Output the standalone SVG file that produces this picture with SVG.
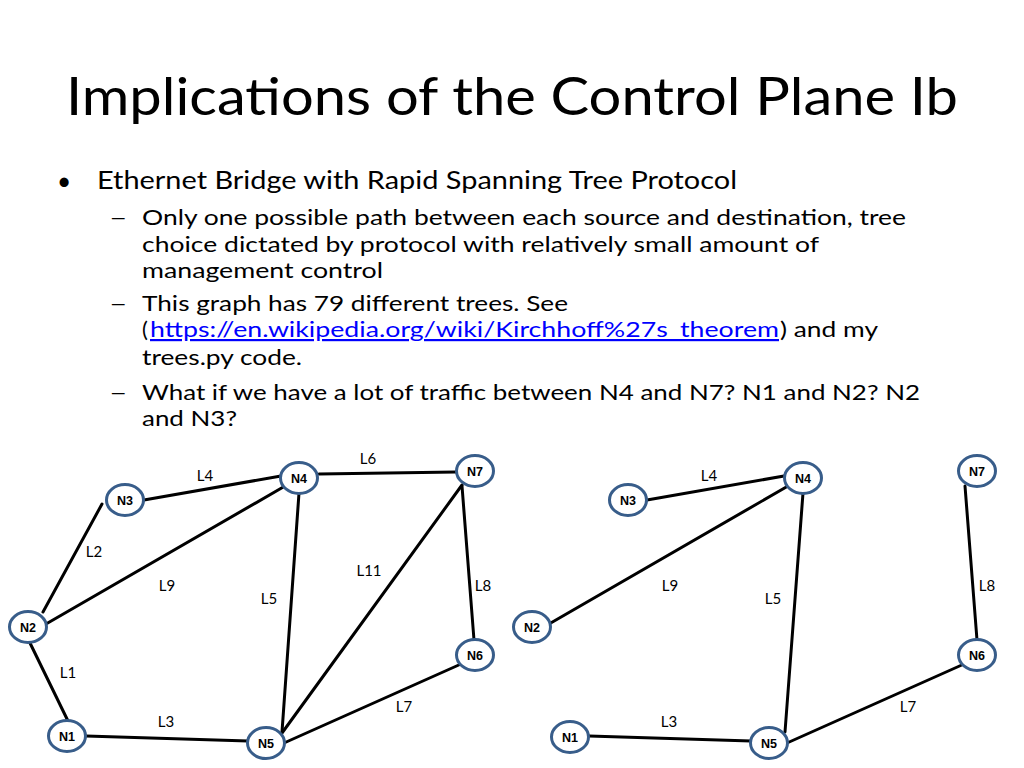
<svg xmlns="http://www.w3.org/2000/svg" width="1024" height="768" viewBox="0 0 1024 768">
<style>
.t{font-family:Lato,"Open Sans","Liberation Sans",sans-serif;fill:#000}
.title{font-size:53px}
.b1{font-size:24.5px}
.b2{font-size:22px}
.link{fill:#0000ff;text-decoration:underline}
.lbl{font-family:Lato,"Open Sans","Liberation Sans",sans-serif;font-size:15px;fill:#000;text-anchor:middle}
.nd ellipse{fill:#fff;stroke:#385d8a;stroke-width:3}
.nd text{font-family:"Liberation Sans",Arial,sans-serif;font-weight:bold;font-size:13px;fill:#000;text-anchor:middle}
.edges line{stroke:#000;stroke-width:3;stroke-linecap:round}
</style>
<rect width="1024" height="768" fill="#fff"/>
<text class="t title" x="66" y="115" textLength="892" lengthAdjust="spacingAndGlyphs">Implications of the Control Plane Ib</text>
<text class="t b1" x="57" y="190">•</text>
<text class="t b1" x="97" y="189" textLength="640" lengthAdjust="spacingAndGlyphs">Ethernet Bridge with Rapid Spanning Tree Protocol</text>
<text class="t b2" transform="translate(109,225) scale(1.45,1)">–</text>
<text class="t b2" x="142" y="225" textLength="764" lengthAdjust="spacingAndGlyphs">Only one possible path between each source and destination, tree</text>
<text class="t b2" x="142" y="252" textLength="677" lengthAdjust="spacingAndGlyphs">choice dictated by protocol with relatively small amount of</text>
<text class="t b2" x="142" y="278" textLength="241" lengthAdjust="spacingAndGlyphs">management control</text>
<text class="t b2" transform="translate(109,311) scale(1.45,1)">–</text>
<text class="t b2" x="142" y="311" textLength="426" lengthAdjust="spacingAndGlyphs">This graph has 79 different trees. See</text>
<text class="t b2" x="142" y="337">(</text>
<text class="t b2 link" x="150" y="337" textLength="629" lengthAdjust="spacingAndGlyphs">https://en.wikipedia.org/wiki/Kirchhoff%27s_theorem</text>
<text class="t b2" x="780" y="337" textLength="98" lengthAdjust="spacingAndGlyphs">) and my</text>
<text class="t b2" x="142" y="365" textLength="160" lengthAdjust="spacingAndGlyphs">trees.py code.</text>
<text class="t b2" transform="translate(109,400) scale(1.45,1)">–</text>
<text class="t b2" x="142" y="400" textLength="778" lengthAdjust="spacingAndGlyphs">What if we have a lot of traffic between N4 and N7? N1 and N2? N2</text>
<text class="t b2" x="142" y="426" textLength="95" lengthAdjust="spacingAndGlyphs">and N3?</text>

<g id="graph-full">
  <g id="connectors-full" class="edges">
    <line x1="144" y1="500" x2="281" y2="476"/>
    <line x1="319" y1="474" x2="456" y2="472"/>
    <line x1="43" y1="612" x2="102" y2="504"/>
    <line x1="46" y1="624" x2="285" y2="486"/>
    <line x1="299" y1="493" x2="282" y2="732"/>
    <line x1="462" y1="485" x2="282" y2="733"/>
    <line x1="462" y1="486" x2="474" y2="640"/>
    <line x1="30" y1="643" x2="68" y2="721"/>
    <line x1="86" y1="736" x2="248" y2="741"/>
    <line x1="284" y1="743" x2="461" y2="664"/>
  </g>
  <g id="labels-full">
    <text class="lbl" x="205" y="481">L4</text>
    <text class="lbl" x="368" y="464">L6</text>
    <text class="lbl" x="94" y="557">L2</text>
    <text class="lbl" x="167" y="591">L9</text>
    <text class="lbl" x="269" y="604">L5</text>
    <text class="lbl" x="369" y="576">L11</text>
    <text class="lbl" x="483" y="591">L8</text>
    <text class="lbl" x="68" y="678">L1</text>
    <text class="lbl" x="166" y="727">L3</text>
    <text class="lbl" x="404" y="712">L7</text>
  </g>
  <g id="n1-full" class="nd"><ellipse cx="67" cy="736" rx="18.5" ry="15.5"/><text x="67" y="741" textLength="16" lengthAdjust="spacingAndGlyphs">N1</text></g>
  <g id="n2-full" class="nd"><ellipse cx="28" cy="627" rx="18.5" ry="15.5"/><text x="28" y="632" textLength="16" lengthAdjust="spacingAndGlyphs">N2</text></g>
  <g id="n3-full" class="nd"><ellipse cx="125" cy="500" rx="18.5" ry="15.5"/><text x="125" y="505" textLength="16" lengthAdjust="spacingAndGlyphs">N3</text></g>
  <g id="n4-full" class="nd"><ellipse cx="299" cy="478" rx="18.5" ry="15.5"/><text x="299" y="483" textLength="16" lengthAdjust="spacingAndGlyphs">N4</text></g>
  <g id="n5-full" class="nd"><ellipse cx="266" cy="743" rx="18.5" ry="15.5"/><text x="266" y="748" textLength="16" lengthAdjust="spacingAndGlyphs">N5</text></g>
  <g id="n6-full" class="nd"><ellipse cx="475" cy="655" rx="18.5" ry="15.5"/><text x="475" y="660" textLength="16" lengthAdjust="spacingAndGlyphs">N6</text></g>
  <g id="n7-full" class="nd"><ellipse cx="475" cy="471" rx="18.5" ry="15.5"/><text x="475" y="476" textLength="16" lengthAdjust="spacingAndGlyphs">N7</text></g>
</g>

<g id="graph-tree" transform="translate(503,0)">
  <g id="connectors-tree" class="edges">
    <line x1="144" y1="500" x2="281" y2="476"/>
    <line x1="46" y1="624" x2="285" y2="486"/>
    <line x1="300" y1="493" x2="282" y2="732"/>
    <line x1="462" y1="486" x2="474" y2="640"/>
    <line x1="86" y1="736" x2="248" y2="741"/>
    <line x1="284" y1="743" x2="461" y2="664"/>
  </g>
  <g id="labels-tree">
    <text class="lbl" x="206" y="481">L4</text>
    <text class="lbl" x="167" y="591">L9</text>
    <text class="lbl" x="270" y="604">L5</text>
    <text class="lbl" x="484" y="591">L8</text>
    <text class="lbl" x="166" y="727">L3</text>
    <text class="lbl" x="405" y="712">L7</text>
  </g>
  <g id="n1-tree" class="nd"><ellipse cx="67" cy="737" rx="18.5" ry="15.5"/><text x="67" y="742" textLength="16" lengthAdjust="spacingAndGlyphs">N1</text></g>
  <g id="n2-tree" class="nd"><ellipse cx="29" cy="627" rx="18.5" ry="15.5"/><text x="29" y="632" textLength="16" lengthAdjust="spacingAndGlyphs">N2</text></g>
  <g id="n3-tree" class="nd"><ellipse cx="125" cy="500" rx="18.5" ry="15.5"/><text x="125" y="505" textLength="16" lengthAdjust="spacingAndGlyphs">N3</text></g>
  <g id="n4-tree" class="nd"><ellipse cx="300" cy="478" rx="18.5" ry="15.5"/><text x="300" y="483" textLength="16" lengthAdjust="spacingAndGlyphs">N4</text></g>
  <g id="n5-tree" class="nd"><ellipse cx="266" cy="743" rx="18.5" ry="15.5"/><text x="266" y="748" textLength="16" lengthAdjust="spacingAndGlyphs">N5</text></g>
  <g id="n6-tree" class="nd"><ellipse cx="474" cy="655" rx="18.5" ry="15.5"/><text x="474" y="660" textLength="16" lengthAdjust="spacingAndGlyphs">N6</text></g>
  <g id="n7-tree" class="nd"><ellipse cx="474" cy="471" rx="18.5" ry="15.5"/><text x="474" y="476" textLength="16" lengthAdjust="spacingAndGlyphs">N7</text></g>
</g>
</svg>
